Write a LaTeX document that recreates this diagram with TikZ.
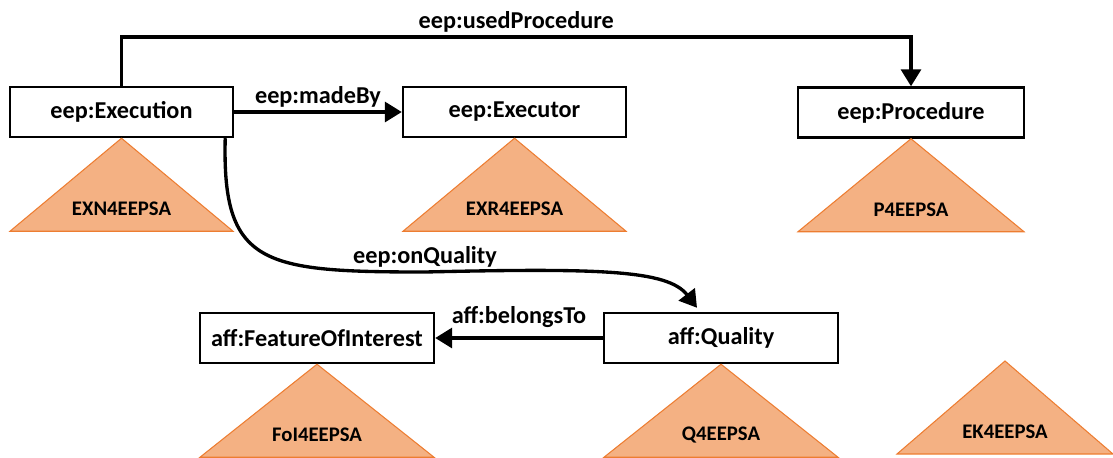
\documentclass[tikz,border=0pt]{standalone}
\usepackage{fontspec}
\setmainfont{Carlito}
\usepackage{xcolor}
\usepackage{tikz}
\usetikzlibrary{arrows.meta,positioning}
\definecolor{trifill}{HTML}{F4B183}
\definecolor{triline}{HTML}{ED7D31}

\begin{document}
\begin{tikzpicture}[
  x=0.02cm, y=-0.02cm,
  >={Triangle[length=0.34cm,width=0.4cm]},
  cls/.style={draw,line width=1.4pt,fill=white,minimum height=1cm,inner sep=2pt,
    font=\fontsize{13.8}{16}\selectfont\bfseries},
  rel/.style={->,line width=1.9pt},
  lbl/.style={font=\fontsize{13.8}{16}\selectfont\bfseries,inner sep=2pt},
  tri/.style={fill=trifill,draw=triline,line width=0.6pt},
  trilbl/.style={font=\fontsize{11.8}{13}\selectfont\bfseries,inner sep=0pt}
]
  \useasboundingbox (0,0) rectangle (1113,457);

  % classes
  \node[cls,minimum width=4.46cm] (exec) at (121.5,112) {eep:Execution};
  \node[cls,minimum width=4.46cm] (executor) at (514.5,112) {eep:Executor};
  \node[cls,minimum width=4.52cm] (proc) at (911,112.5) {eep:Procedure};
  \node[cls,minimum width=4.68cm] (foi) at (317,338) {aff:FeatureOfInterest};
  \node[cls,minimum width=4.68cm] (qual) at (721,338) {aff:Quality};
  \coordinate (ek) at (1005,361);
  \coordinate (uptop) at (0,37);

  % sources of each class
  \foreach \ap/\hw/\name in {exec.south/111.5/EXN4EEPSA,executor.south/111.5/EXR4EEPSA,
      proc.south/113/P4EEPSA,foi.south/117/FoI4EEPSA,qual.south/117/Q4EEPSA,ek/108/EK4EEPSA} {
    \filldraw[tri] (\ap) -- ++(-\hw,93) -- ++(2*\hw,0) -- cycle;
    \path (\ap) ++(0,71) node[trilbl] (t\name) {\name};
  }

  % properties
  \draw[rel] (exec.north) -- (exec.north |- uptop) -| node[lbl,pos=0.25,above] (used) {eep:usedProcedure} (proc.north);
  \draw[rel] (exec.east) -- node[lbl,above] (made) {eep:madeBy} (executor.west);
  \draw[rel] ([xshift=-0.18cm]exec.south east) .. controls (222,265) and (262,272) .. (425,272)
    node[lbl,above] (onq) {eep:onQuality}
    .. controls (600,268) and (668,270) .. ([xshift=-0.48cm,yshift=0.08cm]qual.north);
  \draw[rel] (qual.west) -- node[lbl,above,yshift=0.1cm] (belongs) {aff:belongsTo} (foi.east);
\end{tikzpicture}
\end{document}
